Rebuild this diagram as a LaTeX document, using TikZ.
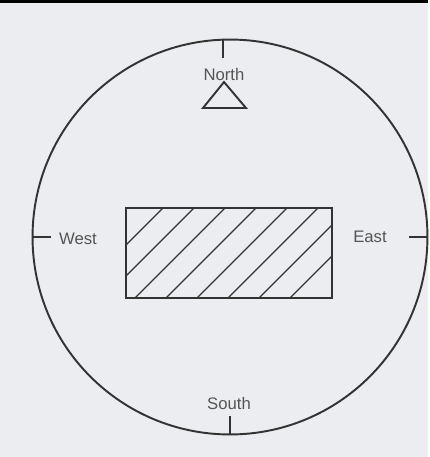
\documentclass[tikz,border=0pt]{standalone}
\usepackage{fontspec}
\setmainfont{Liberation Sans}
\usepackage{tikz}

\definecolor{paper}{HTML}{EBEDF1}
\definecolor{ink}{HTML}{333333}
\definecolor{print}{HTML}{555555}

\tikzset{
  label/.style={text=print, font=\fontsize{9.5}{11}\selectfont, inner sep=1pt},
  hatch/.style={ink, line width=0.7pt}
}

\begin{document}
\begin{tikzpicture}[x=0.02cm, y=-0.02cm, line width=1.1pt]
  \fill[paper] (0, 0) rectangle (428, 457);
  \fill[black] (0, 0) rectangle (428, 3);
  \node[circle, draw=ink, minimum size=7.9cm, inner sep=0pt] (dial) at (230, 237) {};
  \node[draw=ink, minimum width=4.12cm, minimum height=1.8cm, inner sep=0pt] (box) at (229, 253) {};
  \begin{scope}
    \clip (box.south west) rectangle (box.north east);
    \foreach \c in {371, 402, 433, 464, 495, 526, 557, 588} {
      \draw[hatch] (\c-400, 400) -- (\c-100, 100);
    }
  \end{scope}
  % ticks on the rim
  \draw[ink] (dial.92) -- ++(0, 19);
  \draw[ink] (dial.270) -- ++(0, -19);
  \draw[ink] (dial.180) -- ++(19, 0);
  \draw[ink] (dial.0) -- ++(-19, 0);
  \node[label] (north) at (224, 75) {North};
  \node[label] (south) at (229, 404) {South};
  \node[label] (west) at (78, 239) {West};
  \node[label] (east) at (370, 237) {East};
  \draw[ink, line join=miter] (224, 82) -- (246, 108) -- (203, 108) -- cycle;
\end{tikzpicture}
\end{document}
